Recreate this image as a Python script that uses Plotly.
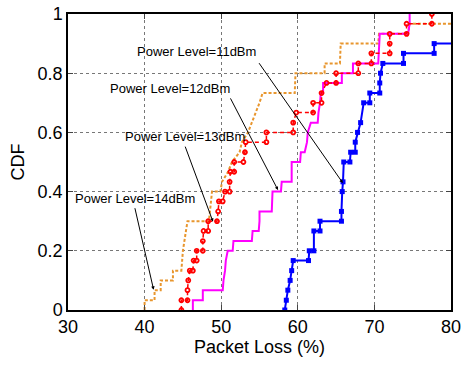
import plotly.graph_objects as go

# ---- data (step-CDF vertices) ----
x_11dbm = [58.3, 58.5, 58.7, 59.0, 59.2, 59.4, 61.4, 61.5, 62.1, 62.1, 62.9, 62.9,
           65.7, 65.7, 65.8, 65.9, 66.0, 66.8, 66.9, 67.5, 67.5, 67.8, 68.2, 68.6,
           69.4, 69.4, 70.7, 70.7, 70.8, 71.1, 73.8, 73.8, 77.8, 77.8, 81.0]
y_11dbm = [0, .033, .067, .1, .133, .167, .167, .2, .2, .267, .267, .3,
           .3, .333, .4, .433, .5, .5, .533, .533, .567, .6, .633, .7,
           .7, .733, .733, .767, .8, .833, .833, .867, .867, .9, .9]

x_12dbm = [46.3, 46.3, 47.6, 47.6, 50.2, 50.3, 50.5, 50.6, 50.85, 51.5, 51.6, 54.0,
           54.1, 54.9, 55.0, 55.0, 56.6, 56.7, 56.7, 57.8, 57.9, 59.2, 59.2, 60.3,
           60.4, 60.9, 61.2, 61.3, 61.7, 62.6, 62.7, 62.9, 63.0, 63.3, 63.3, 65.75,
           65.75, 67.2, 67.2, 70.5, 70.6, 70.7, 74.4, 74.6, 74.6]
y_12dbm = [0, .033, .033, .067, .067, .1, .133, .167, .2, .2, .233, .233,
           .267, .267, .3, .333, .333, .367, .4, .4, .433, .433, .5, .5,
           .533, .533, .567, .6, .633, .633, .667, .7, .733, .733, .767, .767,
           .8, .8, .833, .833, .9, .933, .933, .967, 1.0]

x_13dbm = [44.8, 44.8, 45.6, 45.6, 45.7, 45.9, 46.3, 46.4, 46.8, 46.8, 47.6, 47.6,
           47.7, 48.3, 48.3, 49.45, 49.6, 49.7, 50.2, 50.5, 51.1, 51.1, 51.2, 51.7,
           51.7, 52.9, 53.1, 53.2, 55.9, 55.9, 59.4, 59.4, 59.8, 62.0, 62.0, 63.1,
           63.1, 63.75, 65.0, 65.0, 67.9, 67.9, 69.6, 69.6, 72.0, 72.0, 72.0, 74.2,
           74.2, 77.5, 77.5]
y_13dbm = [0, .033, .033, .067, .1, .133, .133, .167, .167, .2, .2, .233,
           .267, .267, .3, .3, .333, .367, .367, .4, .4, .433, .467, .467,
           .5, .5, .533, .567, .567, .6, .6, .633, .667, .667, .7, .7,
           .733, .767, .767, .8, .8, .833, .833, .867, .867, .9, .933, .933,
           .967, .967, 1.0]

x_14dbm = [40.0, 40.0, 41.3, 41.3, 42.1, 42.1, 43.7, 43.7, 44.8, 45.0, 45.4, 45.6,
           48.4, 48.5, 48.8, 49.9, 50.1, 50.9, 51.4, 52.4, 52.7, 53.5, 54.0, 54.5,
           55.0, 55.4, 59.6, 59.7, 63.5, 63.5, 65.5, 65.6, 70.5, 70.6, 74.4, 74.6, 81.0]
y_14dbm = [0, .033, .033, .067, .067, .1, .1, .133, .133, .2, .267, .3,
           .3, .333, .4, .4, .433, .467, .5, .533, .567, .6, .633, .667,
           .7, .733, .733, .8, .8, .833, .833, .9, .9, .933, .933, .967, .967]

x_ticks = [30, 40, 50, 60, 70, 80]
y_ticks = [0, 0.2, 0.4, 0.6, 0.8, 1]
y_ticklabels = ["0", "0.2", "0.4", "0.6", "0.8", "1"]

labels = ["Power Level=11dBm", "Power Level=12dBm", "Power Level=13dBm", "Power Level=14dBm"]
label_x = [46.73, 43.37, 45.25, 38.81]
label_y = [0.873, 0.749, 0.585, 0.377]
arrow_tail_x = [54.81, 51.11, 45.23, 38.69]
arrow_tail_y = [0.839, 0.720, 0.557, 0.349]
arrow_head_x = [65.88, 57.42, 48.93, 41.18]
arrow_head_y = [0.429, 0.405, 0.298, 0.068]

FONT = "Liberation Sans, Arial, Helvetica, sans-serif"

fig = go.Figure()

fig.add_trace(go.Scatter(x=x_14dbm, y=y_14dbm, mode="lines",
                         line=dict(color="#E8962E", width=2, dash="3px,2px")))
fig.add_trace(go.Scatter(x=x_12dbm, y=y_12dbm, mode="lines",
                         line=dict(color="#FF00FF", width=2)))
fig.add_trace(go.Scatter(x=x_13dbm, y=y_13dbm, mode="lines+markers",
                         line=dict(color="#FF0000", width=1.5, dash="4px,3px"),
                         marker=dict(symbol="circle-open", size=4, color="#FF0000",
                                     line=dict(width=1.8, color="#FF0000"))))
fig.add_trace(go.Scatter(x=x_11dbm, y=y_11dbm, mode="lines+markers",
                         line=dict(color="#0000FF", width=2),
                         marker=dict(symbol="square", size=5, color="#0000FF")))

for i in range(len(labels)):
    fig.add_annotation(x=label_x[i], y=label_y[i], text=labels[i], showarrow=False,
                       font=dict(family=FONT, size=13, color="black"),
                       xanchor="center", yanchor="middle")
    fig.add_annotation(x=arrow_head_x[i], y=arrow_head_y[i], ax=arrow_tail_x[i],
                       ay=arrow_tail_y[i], axref="x", ayref="y", xref="x", yref="y",
                       text="", showarrow=True, arrowhead=2, arrowsize=0.7,
                       arrowwidth=1, arrowcolor="black", standoff=0, startstandoff=0)

fig.update_layout(
    width=462, height=365,
    margin=dict(l=68, r=11, t=14, b=55),
    paper_bgcolor="white", plot_bgcolor="white",
    showlegend=False,
    font=dict(family=FONT, size=18, color="black"),
)
fig.update_xaxes(range=[30, 80], tickvals=x_ticks, ticks="inside", ticklen=5,
                 showline=True, linecolor="black", linewidth=1.5, mirror="allticks",
                 showgrid=True, gridcolor="#777777", griddash="dot", gridwidth=1,
                 zeroline=False, tickfont=dict(size=18), automargin=False,
                 title=dict(text="Packet Loss (%)", font=dict(size=18), standoff=0))
fig.update_yaxes(range=[0, 1], tickvals=y_ticks, ticktext=y_ticklabels, ticks="inside",
                 ticklen=5, showline=True, linecolor="black", linewidth=1.5,
                 mirror="allticks", showgrid=True, gridcolor="#777777", griddash="dot",
                 gridwidth=1, zeroline=False, tickfont=dict(size=18), automargin=False,
                 title=dict(text="CDF", font=dict(size=18), standoff=8))

# remove the page's default 8px body margin so the figure sits at the window origin
fig.write_html("out.html", config={"displayModeBar": False},
               post_script="document.body.style.margin='0';")
